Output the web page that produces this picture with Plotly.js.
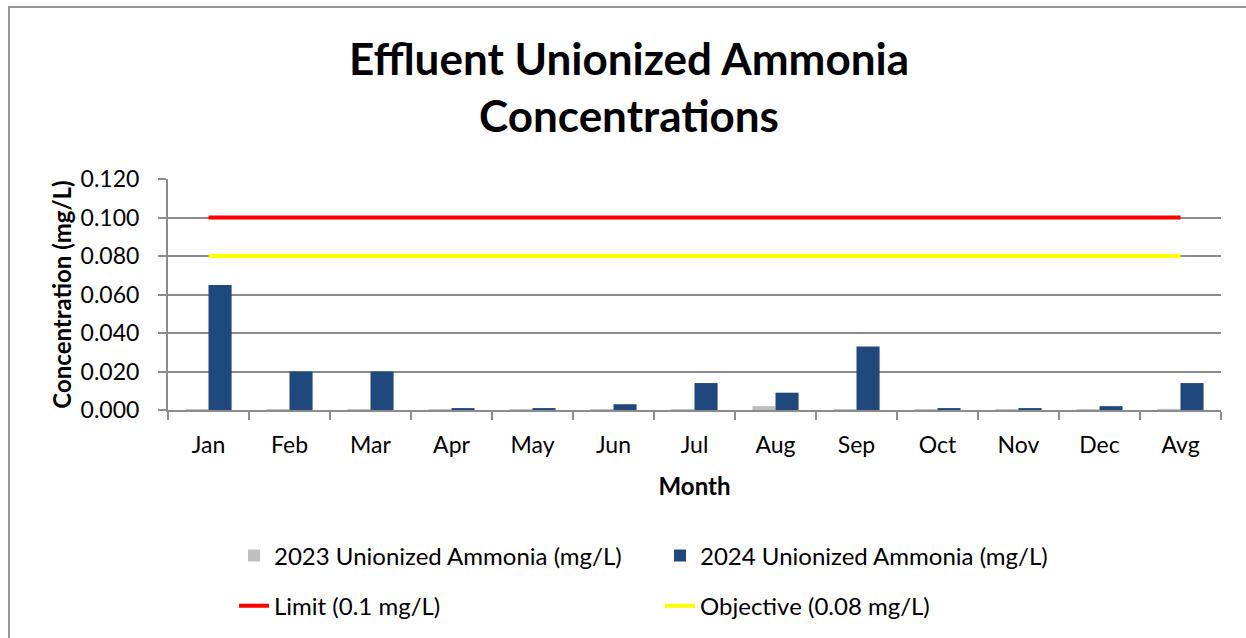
<!DOCTYPE html>
<html>
<head>
<meta charset="utf-8">
<script src="https://cdn.plot.ly/plotly-3.0.1.min.js"></script>
<style>
  html, body { margin: 0; padding: 0; background: #fff; }
  #wrap { position: relative; width: 1246px; height: 638px; overflow: hidden; }
  #chart { position: absolute; left: 0; top: 0; width: 1246px; height: 638px; }
  #frame { position: absolute; left: 8px; top: 6px; width: 1300px; height: 700px; border-left: 2px solid #969696; border-top: 2px solid #969696; pointer-events: none; }
</style>
</head>
<body>
<div id="wrap">
  <div id="chart"></div>
  <div id="frame"></div>
</div>
<script>
const months = ['Jan','Feb','Mar','Apr','May','Jun','Jul','Aug','Sep','Oct','Nov','Dec','Avg'];
const values2023 = [0.0005,0.0005,0.0005,0.0005,0.0005,0.0005,0.0005,0.002,0.0005,0.0005,0.0005,0.0005,0.0006];
const values2024 = [0.065,0.020,0.020,0.001,0.001,0.003,0.014,0.009,0.033,0.001,0.001,0.002,0.014];
const limitValues = [0.1,0.1,0.1,0.1,0.1,0.1,0.1,0.1,0.1,0.1,0.1,0.1,0.1];
const objectiveValues = [0.08,0.08,0.08,0.08,0.08,0.08,0.08,0.08,0.08,0.08,0.08,0.08,0.08];
const yTicks = [0,0.02,0.04,0.06,0.08,0.1,0.12];

const FONT = 'Lato, "Open Sans", sans-serif';
const GRID = '#8c8c8c';

const traces = [
  { type: 'bar', name: '2023 Unionized Ammonia (mg/L)', x: months, y: values2023,
    marker: { color: '#bfbfbf' }, legend: 'legend' },
  { type: 'bar', name: '2024 Unionized Ammonia (mg/L)', x: months, y: values2024,
    marker: { color: '#1f497d' }, legend: 'legend' },
  { type: 'scatter', mode: 'lines', name: 'Limit (0.1 mg/L)', x: months, y: limitValues,
    line: { color: '#ff0000', width: 4 }, legend: 'legend2' },
  { type: 'scatter', mode: 'lines', name: 'Objective (0.08 mg/L)', x: months, y: objectiveValues,
    line: { color: '#ffff00', width: 4 }, legend: 'legend2' }
];

const legendCommon = {
  orientation: 'h', xanchor: 'left', yanchor: 'middle',
  xref: 'paper', yref: 'paper', x: 0.0627,
  font: { family: FONT, size: 24, color: '#000' },
  entrywidth: 381, entrywidthmode: 'pixels', traceorder: 'normal',
  bgcolor: 'rgba(0,0,0,0)'
};

const layout = {
  width: 1246, height: 638,
  paper_bgcolor: '#ffffff', plot_bgcolor: '#ffffff',
  font: { family: FONT, size: 22, color: '#000' },
  margin: { l: 168, r: 25, t: 179, b: 227, pad: 0 },
  title: {
    text: '<b>Effluent Unionized Ammonia<br>Concentrations</b>',
    font: { family: FONT, size: 44, color: '#000' },
    x: 629 / 1246, xref: 'container', xanchor: 'center',
    y: 1 - 75 / 638, yref: 'container', yanchor: 'top'
  },
  barmode: 'group', bargap: 0.43, bargroupgap: 0,
  showlegend: true,
  legend: Object.assign({}, legendCommon, { y: -0.625 }),
  legend2: Object.assign({}, legendCommon, { y: -0.841 }),
  xaxis: {
    type: 'category', categoryorder: 'array', categoryarray: months,
    showline: true, linecolor: GRID, linewidth: 2,
    ticks: 'outside', tickson: 'boundaries', ticklen: 8, tickcolor: GRID, tickwidth: 2,
    ticklabelstandoff: 13,
    tickfont: { family: FONT, size: 23, color: '#000' },
    title: { text: '<b>Month</b>', font: { family: FONT, size: 24, color: '#000' }, standoff: 22 },
    showgrid: false, zeroline: false, fixedrange: true
  },
  yaxis: {
    range: [0, 0.12], tickvals: yTicks, tickformat: '.3f',
    showline: true, linecolor: GRID, linewidth: 2,
    ticks: 'outside', ticklen: 8, tickcolor: GRID, tickwidth: 2,
    ticklabelstandoff: 14,
    showgrid: true, gridcolor: GRID, gridwidth: 2,
    zeroline: false,
    tickfont: { family: FONT, size: 23, color: '#000' },
    title: { text: '<b>Concentration (mg/L)</b>', font: { family: FONT, size: 24, color: '#000' }, standoff: 2 },
    fixedrange: true
  }
};

Plotly.newPlot('chart', traces, layout, { displayModeBar: false, staticPlot: true });
</script>
</body>
</html>
